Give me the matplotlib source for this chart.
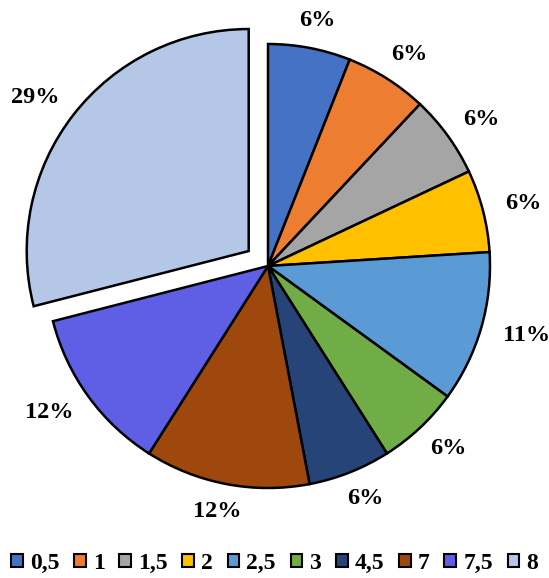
import numpy as np
import matplotlib.pyplot as plt
from matplotlib.patches import Patch

categories = ['0,5', '1', '1,5', '2', '2,5', '3', '4,5', '7', '7,5', '8']
shares = [6, 6, 6, 6, 11, 6, 6, 12, 12, 29]
colors = ['#4472C4', '#ED7D31', '#A5A5A5', '#FFC000', '#5B9BD5',
          '#70AD47', '#264478', '#9E480E', '#5F5FE6', '#B4C7E7']
explode = [0, 0, 0, 0, 0, 0, 0, 0, 0, 0.11]

plt.rcParams['font.family'] = ['Liberation Serif', 'DejaVu Serif']
plt.rcParams['font.weight'] = 'bold'

W, H = 549, 578
fig = plt.figure(figsize=(W / 100, H / 100), dpi=100)

# pie centre (268, 266) px from top, radius 222 px
R = 222
lim = 1.25
size = 2 * R * lim
ax = fig.add_axes([(268 - size / 2) / W, (H - 266 - size / 2) / H, size / W, size / H])

wedges, _ = ax.pie(
    shares, colors=colors, explode=explode, startangle=90, counterclock=False,
    wedgeprops=dict(edgecolor='black', linewidth=1.8))
ax.set_xlim(-lim, lim)
ax.set_ylim(-lim, lim)
ax.set_aspect('equal')
ax.axis('off')

# labels placed outside the end of each slice (text box touching the rim)
fig.canvas.draw()
renderer = fig.canvas.get_renderer()
total = sum(shares)
for w, s in zip(wedges, shares):
    ang = np.deg2rad((w.theta1 + w.theta2) / 2)
    c, sn = np.cos(ang), np.sin(ang)
    cx, cy = w.center
    t = ax.text(0, 0, f'{100 * s / total:.0f}%', fontsize=17.5, fontweight='bold',
                ha='center', va='center')
    bb = t.get_window_extent(renderer)
    tw, th = (bb.width + 16) / R, (bb.height + 4) / R
    r = 1.07
    t.set_position((cx + r * c + tw / 2 * c, cy + r * sn + th / 2 * sn))

handles = [Patch(facecolor=c, edgecolor='black', linewidth=1.5) for c in colors]
fig.legend(handles, categories, loc='lower center', ncol=10, frameon=False,
           bbox_to_anchor=(0.5, -0.03), fontsize=17, handlelength=0.5,
           handleheight=0.5, handletextpad=0.3, columnspacing=0.62)

fig.savefig('out.png', dpi=100)
